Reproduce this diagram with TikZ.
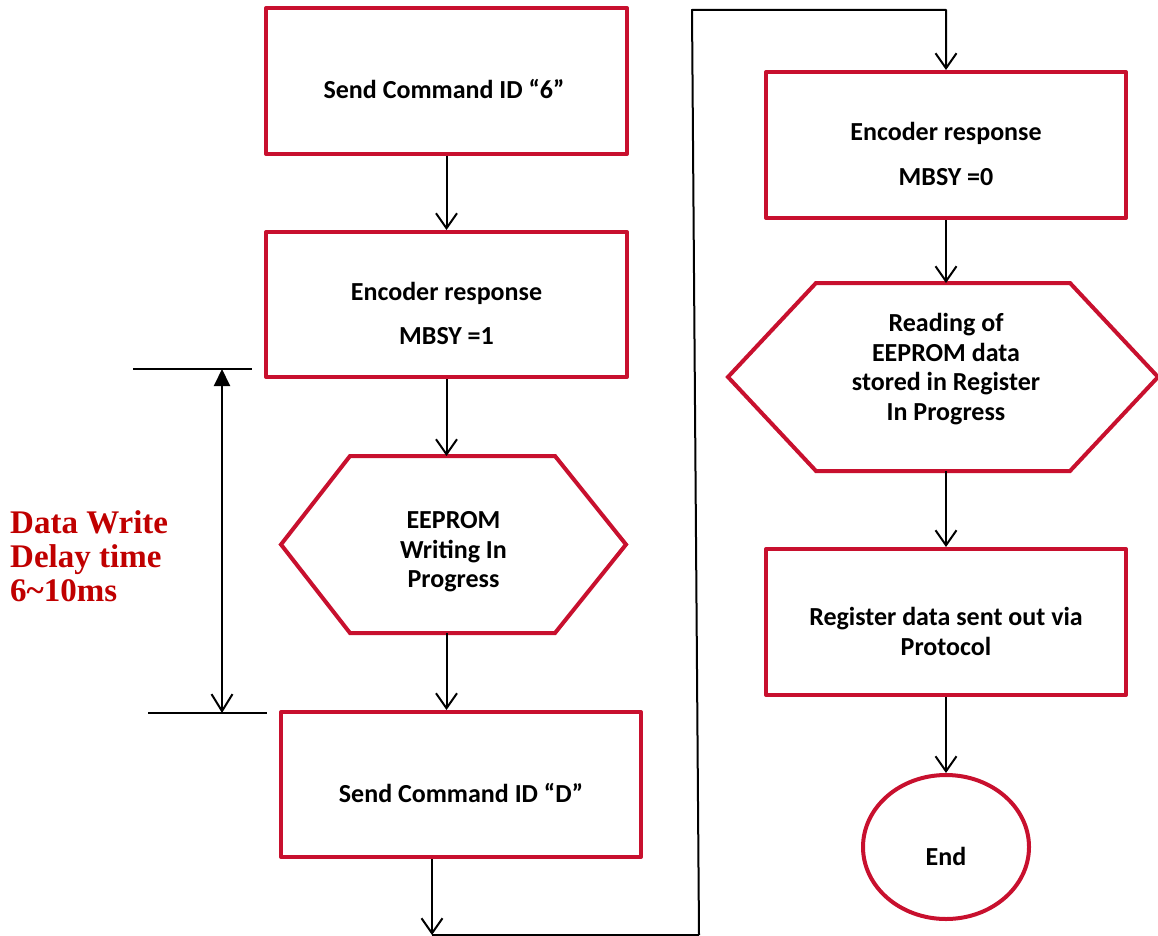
\documentclass[tikz,border=0pt]{standalone}
\usepackage{fontspec}
\setmainfont{Carlito}
\newfontfamily\serifb{Liberation Serif}
\usetikzlibrary{arrows.meta,shapes.geometric}
\definecolor{fcred}{RGB}{200,16,46}
\definecolor{dred}{RGB}{192,0,0}
\tikzset{
  box/.style={draw=fcred, line width=4pt, line join=round, rectangle, inner sep=0pt},
  hexarea/.style={draw=none, rectangle, inner sep=0pt, outer sep=0pt},
  hexline/.style={draw=fcred, line width=4pt, line join=miter},
  endshape/.style={draw=fcred, line width=4pt, ellipse, inner sep=0pt},
  txt/.style={font=\bfseries\fontsize{26}{29.5}\selectfont, align=center, inner sep=0pt},
  arr/.style={draw=black, line width=2pt, -{Straight Barb[length=15pt,width=21pt,line width=2pt]}},
  plain/.style={draw=black, line width=2pt},
  redtxt/.style={font=\serifb\bfseries\fontsize{33}{34}\selectfont, text=dred, align=left, inner sep=0pt}
}
\begin{document}
\begin{tikzpicture}[x=1pt,y=-1pt]
\useasboundingbox (0,0) rectangle (1158,936);
\fill[white] (0,0) rectangle (1158,936);

% left column
\node[box, minimum width=361pt, minimum height=146pt] (box1) at (446.5,81) {};
\node[txt] (t1) at (444,89) {Send Command ID “6”};
\node[box, minimum width=361pt, minimum height=145pt] (box2) at (446.5,304.5) {};
\node[txt] (t2) at (446.5,313.5) {Encoder response\\[15pt]MBSY =1};
\node[hexarea, minimum width=345pt, minimum height=177pt] (hex1) at (453.5,544.5) {};
\draw[hexline] (hex1.west) -- ([xshift=69pt]hex1.north west) -- ([xshift=-71pt]hex1.north east)
  -- (hex1.east) -- ([xshift=-71pt]hex1.south east) -- ([xshift=69pt]hex1.south west) -- cycle;
\node[txt] (t3) at (453.5,552) {EEPROM\\Writing In\\Progress};
\node[box, minimum width=360pt, minimum height=145pt] (box3) at (461,784.5) {};
\node[txt] (t4) at (461,793) {Send Command ID “D”};

% right column
\node[box, minimum width=360pt, minimum height=146pt] (box4) at (946,145) {};
\node[txt] (t5) at (946,154) {Encoder response\\[15pt]MBSY =0};
\node[hexarea, minimum width=430pt, minimum height=188pt] (hex2) at (943,377) {};
\draw[hexline] (hex2.west) -- ([xshift=88pt]hex2.north west) -- ([xshift=-88pt]hex2.north east)
  -- (hex2.east) -- ([xshift=-88pt]hex2.south east) -- ([xshift=88pt]hex2.south west) -- cycle;
\node[txt] (t6) at (946,369) {Reading of\\EEPROM data\\stored in Register\\In Progress};
\node[box, minimum width=360pt, minimum height=146pt] (box5) at (946,622) {};
\node[txt] (t7) at (946,631.5) {Register data sent out via\\Protocol};
\node[endshape, minimum width=166pt, minimum height=144pt] (endn) at (946,847) {};
\node[txt] (t8) at (946,856) {End};

% connectors
\draw[arr] (box1.south) -- (box1.south |- box2.north);
\draw[arr] (box2.south) -- (box2.south |- hex1.north);
\draw[arr] (box2.south |- hex1.south) -- (box2.south |- box3.north);

\coordinate (turnA) at (432,935);
\coordinate (turnB) at (699,935);
\coordinate (turnC) at (692,10);
\coordinate (turnD) at (946,10);
\draw[arr] (box3.south -| turnA) -- (turnA);
\draw[draw=black, line width=1.5pt] (turnA) -- (turnB);
\draw[arr, line join=round] (turnB) -- (turnC) -- (turnD) -- (box4.north);

\draw[arr] (box4.south) -- (hex2.north -| box4.south);
\draw[arr] (hex2.south -| box4.south) -- (box5.north);
\draw[arr] (box5.south) -- (endn.north);

% delay measurement
\coordinate (mA1) at (133,369);
\coordinate (mA2) at (252,369);
\coordinate (mB1) at (148,713);
\coordinate (mB2) at (267,713);
\coordinate (mTop) at (222,369);
\coordinate (mBot) at (222,713);
\draw[plain] (mA1) -- (mA2);
\draw[plain] (mB1) -- (mB2);
\draw[draw=black, line width=2pt, {Triangle[length=17pt,width=16pt]}-{Straight Barb[length=17pt,width=21pt,line width=2pt]}] (mTop) -- (mBot);
\node[redtxt, anchor=west] (delay) at (10,556) {Data Write\\Delay time\\6\textasciitilde10ms};
\end{tikzpicture}
\end{document}
